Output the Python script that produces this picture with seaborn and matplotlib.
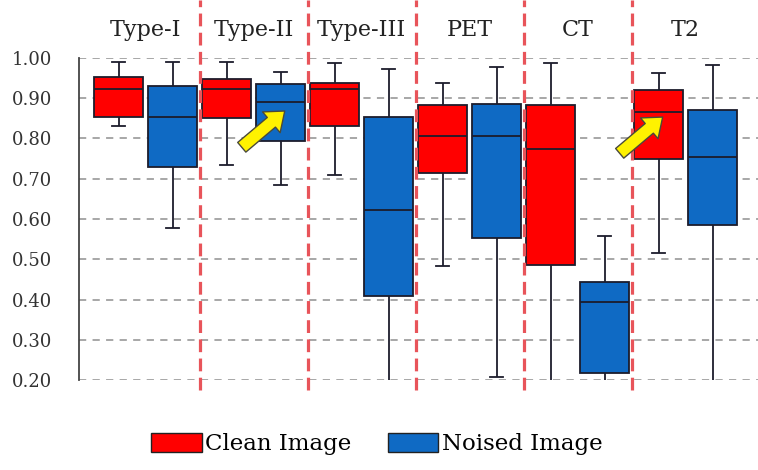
import pandas as pd
import matplotlib
matplotlib.use('Agg')
import matplotlib.pyplot as plt
import seaborn as sns
from matplotlib.patches import Patch

# 类别和每个箱子的五个数值 (最小, Q1, 中位数, Q3, 最大)
categories = ['Type-I', 'Type-II', 'Type-III', 'PET', 'CT', 'T2']
clean_image = [
    [0.831, 0.852, 0.922, 0.952, 0.990],
    [0.733, 0.850, 0.922, 0.948, 0.990],
    [0.708, 0.831, 0.922, 0.938, 0.988],
    [0.484, 0.714, 0.807, 0.883, 0.938],
    [0.190, 0.487, 0.773, 0.883, 0.987],
    [0.515, 0.750, 0.866, 0.920, 0.963],
]
noised_image = [
    [0.577, 0.729, 0.854, 0.930, 0.990],
    [0.684, 0.794, 0.890, 0.934, 0.966],
    [0.190, 0.409, 0.623, 0.852, 0.973],
    [0.208, 0.552, 0.807, 0.886, 0.977],
    [0.195, 0.217, 0.395, 0.444, 0.559],
    [0.190, 0.584, 0.754, 0.870, 0.983],
]
series_names = ['Clean Image', 'Noised Image']
yticks = [0.2, 0.3, 0.4, 0.5, 0.6, 0.7, 0.8, 0.9, 1.0]

custom_colors = {'Clean Image': '#FF0000', 'Noised Image': '#0F6AC4'}

rows = []
for name, series in zip(series_names, [clean_image, noised_image]):
    for cat, vals in zip(categories, series):
        for v in vals:
            rows.append({'Category': cat, 'Condition': name, 'Score': v})
df = pd.DataFrame(rows)

fig = plt.figure(figsize=(7.58, 4.70), dpi=100)
ax = fig.add_axes([0.104, 0.191, 0.896, 0.686])

sns.boxplot(
    data=df, x='Category', y='Score', hue='Condition',
    order=categories, hue_order=series_names,
    palette=custom_colors, whis=(0, 100), width=1.0, gap=0.1,
    saturation=1, linecolor='#1c1c2c', linewidth=1.3,
    capwidths=0.12, legend=False, ax=ax, zorder=3,
)

ax.set_xlim(-0.62, 5.67)
ax.set_ylim(0.2, 1.0)
ax.set_yticks(yticks)
ax.set_yticklabels([f'{t:.2f}' for t in yticks], fontsize=13,
                   family='DejaVu Serif', color='#333333')

# 水平虚线网格
for t in yticks:
    ax.axhline(t, color='#a0a0a0', linestyle=(0, (4, 3.5)), linewidth=1.3, zorder=1)

# 组之间的红色虚线
for i in range(len(categories) - 1):
    ax.axvline(i + 0.5, ymin=-0.03, ymax=1.18, color='#E8545A',
               linestyle=(0, (4, 2)), linewidth=2.3, clip_on=False, zorder=4)

# 类别名放在顶部
ax.xaxis.tick_top()
ax.set_xticks(range(len(categories)))
ax.set_xticklabels(categories, fontsize=16, family='DejaVu Serif', color='#222222')
ax.tick_params(axis='x', length=0, pad=12)
ax.tick_params(axis='y', length=0, pad=19)
ax.set_xlabel('')
ax.set_ylabel('')

for s in ['top', 'right', 'bottom']:
    ax.spines[s].set_visible(False)
ax.spines['left'].set_color('#444444')
ax.spines['left'].set_linewidth(1.3)

# 黄色箭头
arrow_kw = dict(arrowstyle='simple,head_length=0.9,head_width=1.4,tail_width=0.65',
                fc='#FFF200', ec='#4a4a3a', lw=1.0, shrinkA=0, shrinkB=0,
                mutation_scale=14)
ax.annotate('', xy=(1.287, 0.868), xytext=(0.889, 0.778),
            arrowprops=arrow_kw, zorder=6)
ax.annotate('', xy=(4.787, 0.853), xytext=(4.389, 0.763),
            arrowprops=arrow_kw, zorder=6)

# 图例
legend_elements = [Patch(facecolor=custom_colors[n], edgecolor='#222222', label=n)
                   for n in series_names]
fig.legend(handles=legend_elements, loc='center', bbox_to_anchor=(0.497, 0.055),
           ncol=2, frameon=False, handlelength=2.2, handleheight=0.9,
           handletextpad=0.15, columnspacing=1.6,
           prop={'family': 'DejaVu Serif', 'size': 16.5})

plt.savefig('out.png', dpi=100, facecolor='white')
